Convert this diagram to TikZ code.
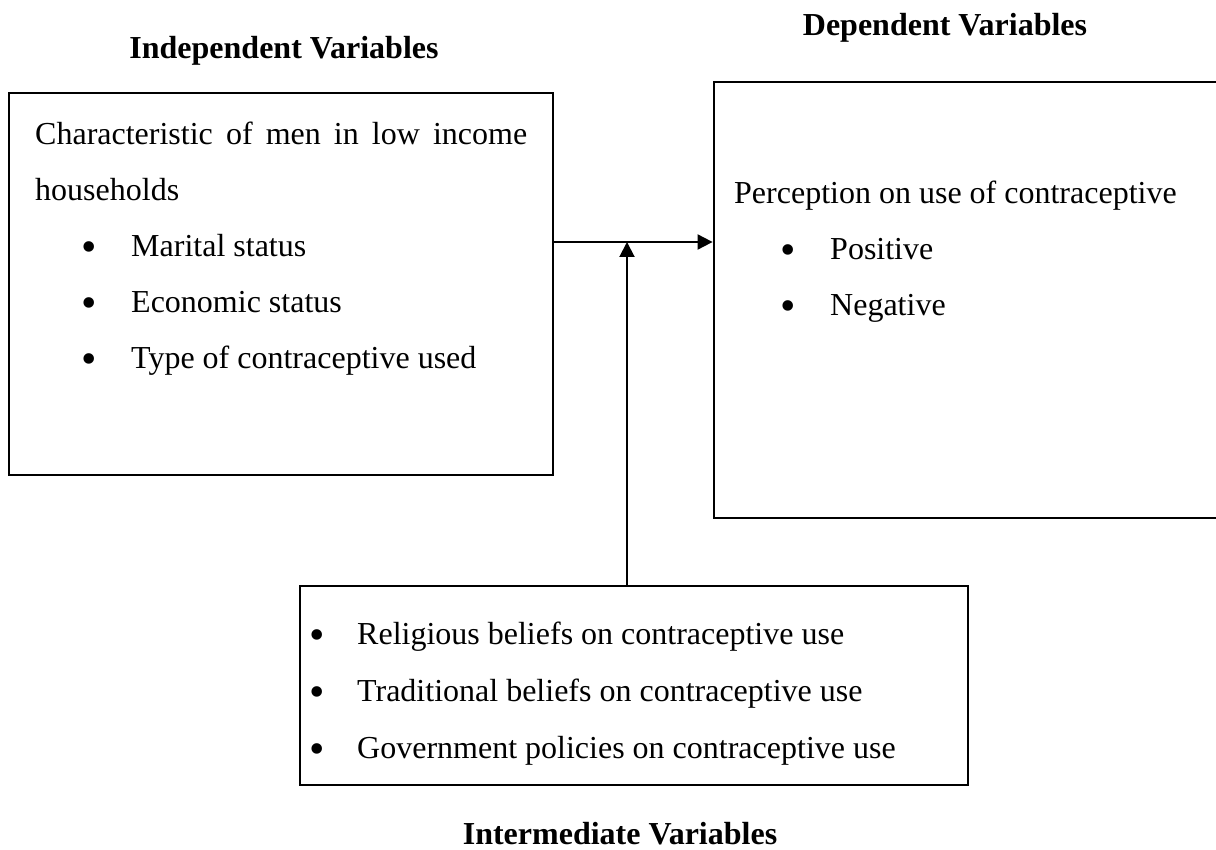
\documentclass[tikz,border=0pt]{standalone}
\usepackage{fontspec}
\setmainfont{Liberation Serif}
\usetikzlibrary{arrows.meta}
\newcommand{\bigbul}{\raisebox{-5pt}{\fontsize{44}{44}\selectfont •}}
\begin{document}
\begin{tikzpicture}[x=1pt,y=-1pt,
  box/.style={draw,line width=2.8pt,inner sep=0pt},
  txt/.style={anchor=base west,inner sep=0pt,font=\fontsize{32}{38}\selectfont},
  ttl/.style={anchor=base,inner sep=0pt,font=\fontsize{32}{38}\selectfont\bfseries},
  conn/.style={line width=2pt,-{Triangle[length=15pt,width=15pt]}}]
\useasboundingbox (0,0) rectangle (1216,850);
% boxes
\node[box,minimum width=544pt,minimum height=382pt] (ind) at (281,284) {};
\node[box,minimum width=503pt,minimum height=436pt] (dep) at (965.5,300) {};
\node[box,minimum width=668pt,minimum height=199pt] (mid) at (634,685.5) {};
% titles
\node[ttl] (tind) at (284,59) {Independent Variables};
\node[ttl] (tdep) at (945,36) {Dependent Variables};
\node[ttl] (tmid) at (620,844) {Intermediate Variables};
% left box text
\node[txt] (l1) at (35,145) {\makebox[492pt][s]{Characteristic of men in low income}};
\node[txt] (l2) at (35,201) {households};
\node[txt] (lb1) at (81,257) {\bigbul};
\node[txt] (lt1) at (131,257) {Marital status};
\node[txt] (lb2) at (81,313) {\bigbul};
\node[txt] (lt2) at (131,313) {Economic status};
\node[txt] (lb3) at (81,369) {\bigbul};
\node[txt] (lt3) at (131,369) {Type of contraceptive used};
% right box text
\node[txt] (r1) at (734,204) {Perception on use of contraceptive};
\node[txt] (rb1) at (780,260) {\bigbul};
\node[txt] (rt1) at (830,260) {Positive};
\node[txt] (rb2) at (780,316) {\bigbul};
\node[txt] (rt2) at (830,316) {Negative};
% bottom box text
\node[txt] (mb1) at (309,644) {\bigbul};
\node[txt] (mt1) at (357,644) {Religious beliefs on contraceptive use};
\node[txt] (mb2) at (309,701) {\bigbul};
\node[txt] (mt2) at (357,701) {Traditional beliefs on contraceptive use};
\node[txt] (mb3) at (309,758) {\bigbul};
\node[txt] (mt3) at (357,758) {Government policies on contraceptive use};
% connectors
\coordinate (j) at (627,242);
\draw[conn] (ind.east |- j) -- (dep.west |- j);
\draw[conn] (mid.north -| j) -- (j);
\end{tikzpicture}
\end{document}
